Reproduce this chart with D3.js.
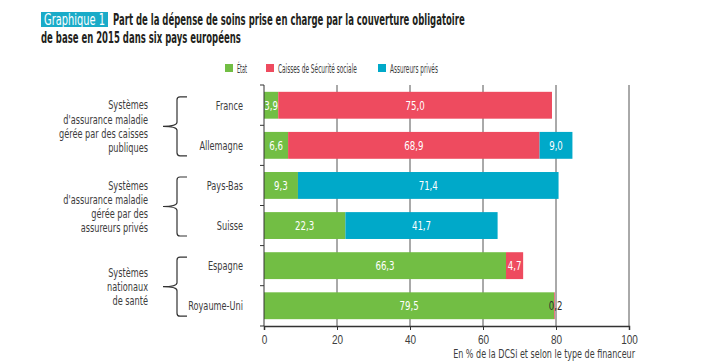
<!DOCTYPE html>
<html>
<head>
<meta charset="utf-8">
<script src="https://cdn.jsdelivr.net/npm/d3@7"></script>
<style>
  body { margin: 0; background: #fff; }
  svg { display: block; font-family: "DejaVu Sans Condensed", "Liberation Sans Narrow", "Roboto", sans-serif; }
</style>
</head>
<body>
<div id="chart"></div>
<script>
const countries = [`France`, `Allemagne`, `Pays-Bas`, `Suisse`, `Espagne`, `Royaume-Uni`];
const seriesNames = [`État`, `Caisses de Sécurité sociale`, `Assureurs privés`];
const etat = [3.9, 6.6, 9.3, 22.3, 66.3, 79.5];
const caisses = [75.0, 68.9, 0, 0, 4.7, 0.2];
const assureurs = [0, 9.0, 71.4, 41.7, 0, 0];
const xTicks = [0, 20, 40, 60, 80, 100];
const groupLabels = [
  [`Systèmes`, `d'assurance maladie`, `gérée par des caisses`, `publiques`],
  [`Systèmes`, `d'assurance maladie`, `gérée par des`, `assureurs privés`],
  [`Systèmes`, `nationaux`, `de santé`],
];
const groupMembers = [[`France`, `Allemagne`], [`Pays-Bas`, `Suisse`], [`Espagne`, `Royaume-Uni`]];

const colors = [`#72be44`, `#ee4b5f`, `#00a9c9`];
const textColor = `#3d3d3d`;
const width = 717, height = 364;
const margin = {top: 85, left: 264, right: 88, bottom: 38};

// squeeze a text horizontally around its anchor point (the pdf font is condensed)
const squeeze = (text, sx) => {
  const tx = +text.attr(`x`) || 0;
  const ty = +text.attr(`y`) || 0;
  text.attr(`x`, 0).attr(`y`, 0)
    .attr(`transform`, `translate(${tx},${ty}) scale(${sx},1)`);
  return text;
};
const fit = (text, w) => squeeze(text, w / text.node().getComputedTextLength());

const svg = d3.select(`#chart`).append(`svg`)
  .attr(`width`, width)
  .attr(`height`, height);

const x = d3.scaleLinear().domain([0, 100]).range([margin.left, width - margin.right]);
const y = d3.scaleBand().domain(countries).range([margin.top, height - margin.bottom])
  .paddingInner(0.33).paddingOuter(0.17);
const yTop = margin.top, yBottom = height - margin.bottom;

// Title
svg.append(`rect`)
  .attr(`x`, 41).attr(`y`, 12).attr(`width`, 67).attr(`height`, 15)
  .attr(`fill`, `#1aabc8`);
fit(svg.append(`text`)
  .attr(`x`, 44).attr(`y`, 24.5)
  .attr(`fill`, `#fff`).attr(`font-size`, 15)
  .text(`Graphique 1`), 61);
fit(svg.append(`text`)
  .attr(`x`, 113).attr(`y`, 25)
  .attr(`fill`, `#231f20`).attr(`font-size`, 16.5).attr(`font-weight`, `bold`)
  .text(`Part de la dépense de soins prise en charge par la couverture obligatoire`), 352);
fit(svg.append(`text`)
  .attr(`x`, 41).attr(`y`, 43)
  .attr(`fill`, `#231f20`).attr(`font-size`, 16.5).attr(`font-weight`, `bold`)
  .text(`de base en 2015 dans six pays européens`), 200);

// Legend
const legendX = [225, 266, 378];
const legendW = [10, 79, 48];
const legend = svg.append(`g`);
seriesNames.forEach((name, i) => {
  legend.append(`rect`)
    .attr(`x`, legendX[i]).attr(`y`, 64).attr(`width`, 8).attr(`height`, 8)
    .attr(`fill`, colors[i]);
  fit(legend.append(`text`)
    .attr(`x`, legendX[i] + 12).attr(`y`, 72.5)
    .attr(`fill`, textColor).attr(`font-size`, 12.5)
    .text(name), legendW[i]);
});

// Vertical grid lines
svg.append(`g`)
  .selectAll(`line`)
  .data(xTicks.slice(1))
  .enter().append(`line`)
    .attr(`x1`, d => x(d)).attr(`x2`, d => x(d))
    .attr(`y1`, yTop).attr(`y2`, yBottom)
    .attr(`stroke`, `#555`).attr(`stroke-width`, 1);

// Stacked bars
const rows = countries.map((c, i) => ({country: c, values: [etat[i], caisses[i], assureurs[i]]}));
const stack = d3.stack().keys([0, 1, 2]).value((d, k) => d.values[k]);
const stacked = stack(rows);

const series = svg.append(`g`)
  .selectAll(`g`)
  .data(stacked)
  .enter().append(`g`)
    .attr(`fill`, (d, i) => colors[i]);

series.selectAll(`rect`)
  .data(d => d.filter(s => s[1] - s[0] > 0))
  .enter().append(`rect`)
    .attr(`x`, d => x(d[0]))
    .attr(`y`, d => y(d.data.country))
    .attr(`width`, d => x(d[1]) - x(d[0]))
    .attr(`height`, y.bandwidth());

// Value labels
const fmt = v => d3.format(`.1f`)(v).replace(`.`, `,`);
series.selectAll(`text`)
  .data(d => d.filter(s => s[1] - s[0] > 0))
  .enter().append(`text`)
    .attr(`x`, d => (x(d[0]) + x(d[1])) / 2 + (d[1] - d[0] < 1 ? 1 : 0))
    .attr(`y`, d => y(d.data.country) + y.bandwidth() / 2 + 4.5)
    .attr(`text-anchor`, `middle`)
    .attr(`font-size`, 12)
    .attr(`fill`, d => (d[1] - d[0] < 1 ? `#2b2b2b` : `#fff`))
    .text(d => fmt(d[1] - d[0]))
    .each(function() { squeeze(d3.select(this), 0.8); });

// Y axis
const yAxis = svg.append(`g`)
  .attr(`stroke`, `#333`);
yAxis.append(`line`)
  .attr(`x1`, margin.left).attr(`x2`, margin.left)
  .attr(`y1`, yTop).attr(`y2`, yBottom);
const boundaries = countries.map(c => y(c) - y.step() * y.paddingInner() / 2);
boundaries.push(yBottom);
boundaries[0] = yTop;
yAxis.selectAll(`.tick`)
  .data(boundaries)
  .enter().append(`line`)
    .attr(`x1`, margin.left - 4).attr(`x2`, margin.left)
    .attr(`y1`, d => d).attr(`y2`, d => d);

svg.append(`g`)
  .selectAll(`text`)
  .data(countries)
  .enter().append(`text`)
    .attr(`x`, 243)
    .attr(`y`, d => y(d) + y.bandwidth() / 2 + 4.5)
    .attr(`text-anchor`, `end`)
    .attr(`font-size`, 13)
    .attr(`fill`, textColor)
    .text(d => d)
    .each(function() { squeeze(d3.select(this), 0.7); });

// X axis
const xAxis = svg.append(`g`)
  .attr(`transform`, `translate(0,${yBottom})`)
  .call(d3.axisBottom(x).tickValues(xTicks).tickSize(4).tickPadding(5));
xAxis.select(`.domain`).attr(`stroke`, `#333`).attr(`stroke-width`, 1.5);
xAxis.selectAll(`.tick line`).attr(`stroke`, `#333`);
xAxis.selectAll(`.tick text`)
  .attr(`font-family`, null)
  .attr(`font-size`, 12.5)
  .attr(`fill`, textColor)
  .attr(`transform`, `scale(0.8,1)`);

fit(svg.append(`text`)
  .attr(`x`, 635).attr(`y`, 358)
  .attr(`text-anchor`, `end`)
  .attr(`font-size`, 12)
  .attr(`fill`, textColor)
  .text(`En % de la DCSi et selon le type de financeur`), 182);

// Group braces and labels
groupMembers.forEach((members, i) => {
  const top = y(members[0]) + 5;
  const bot = y(members[members.length - 1]) + y.bandwidth() - 3;
  const mid = (top + bot) / 2;
  const bx = 177, ex = 187, tip = 163;
  svg.append(`path`)
    .attr(`d`, `M${ex},${top} L${bx + 3},${top} Q${bx},${top} ${bx},${top + 3}` +
      ` L${bx},${mid - 4} Q${bx},${mid} ${tip},${mid} Q${bx},${mid} ${bx},${mid + 4}` +
      ` L${bx},${bot - 3} Q${bx},${bot} ${bx + 3},${bot} L${ex},${bot}`)
    .attr(`fill`, `none`)
    .attr(`stroke`, `#333`)
    .attr(`stroke-width`, 1.2);

  const lines = groupLabels[i];
  const lh = 14.3;
  const y0 = mid - (lines.length - 1) * lh / 2 + 4.5;
  const t = svg.append(`text`)
    .attr(`text-anchor`, `end`)
    .attr(`font-size`, 13)
    .attr(`fill`, textColor)
    .attr(`transform`, `translate(148,0) scale(0.7,1)`);
  lines.forEach((l, j) => {
    t.append(`tspan`).attr(`x`, 0).attr(`y`, y0 + j * lh).text(l);
  });
});
</script>
</body>
</html>
